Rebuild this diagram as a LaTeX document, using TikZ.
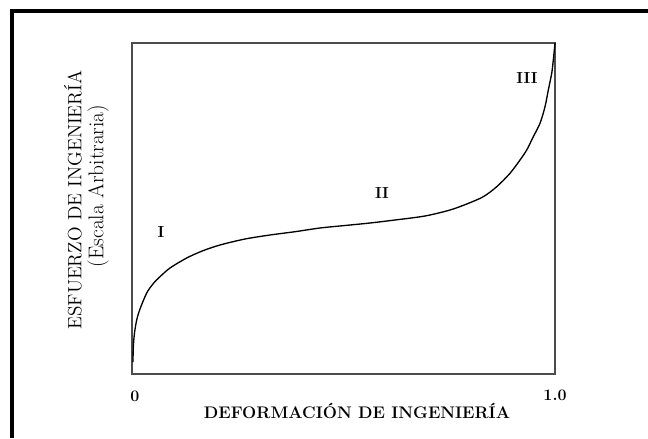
\documentclass[tikz,border=0pt]{standalone}
\usepackage{amsmath}
\usepackage{tikz}
\usetikzlibrary{arrows}
\usepackage{xcolor}
\definecolor{boxgray}{gray}{0.3}

\begin{document}
\begin{tikzpicture}[x = 0.75pt, y = -0.75pt]
\useasboundingbox (0, 0) rectangle (648, 438);
\draw[line width = 3pt] (11.5, 438) -- (11.5, 11.5) -- (648, 11.5) ; 
\draw[boxgray, line width = 1.5pt] (132, 43) rectangle (555, 374) ; 
\draw[line width = 1pt] plot[smooth, tension = 0.5] coordinates {(133, 362) (133.3, 347) (134.5, 333) (136.7, 320) (140, 309) (146.7, 293) (153.3, 283.5) (160, 276.7) (170, 268) (186.7, 258) (203, 250.7) (220, 245) (245, 239) (270, 235) (295, 231.7) (320, 228) (345, 225.5) (370, 223) (395, 220) (425, 216) (450, 210) (466.7, 204) (483.3, 196.7) (496.7, 186.7) (510, 173.3) (520, 160) (526.7, 150) (533.3, 136.7) (540, 123.3) (545, 106.7) (548.3, 90) (551.7, 73.3) (553.3, 60) (555, 43)} ; 
\node(stageI) at (161, 232) [] {\large\textbf{I}} ; 
\node(stageII) at (382, 193) [] {\large\textbf{II}} ; 
\node(stageIII) at (527, 78) [] {\large\textbf{III}} ; 
\node(zero) at (135, 396) [] {\large\textbf{0}} ; 
\node(one) at (555, 395) [] {\large\textbf{1.0}} ; 
\node(xlabel) at (357, 411) [] {\fontsize{12.6}{15}\selectfont\textbf{DEFORMACIÓN DE INGENIERÍA}} ; 
\node(ylabel) at (73, 200) [rotate = 90] {\Large ESFUERZO DE INGENIERÍA} ; 
\node(yscale) at (98, 186) [rotate = 90] {\fontsize{16}{19}\selectfont (Escala Arbitraria)} ; 
\end{tikzpicture}
\end{document}
